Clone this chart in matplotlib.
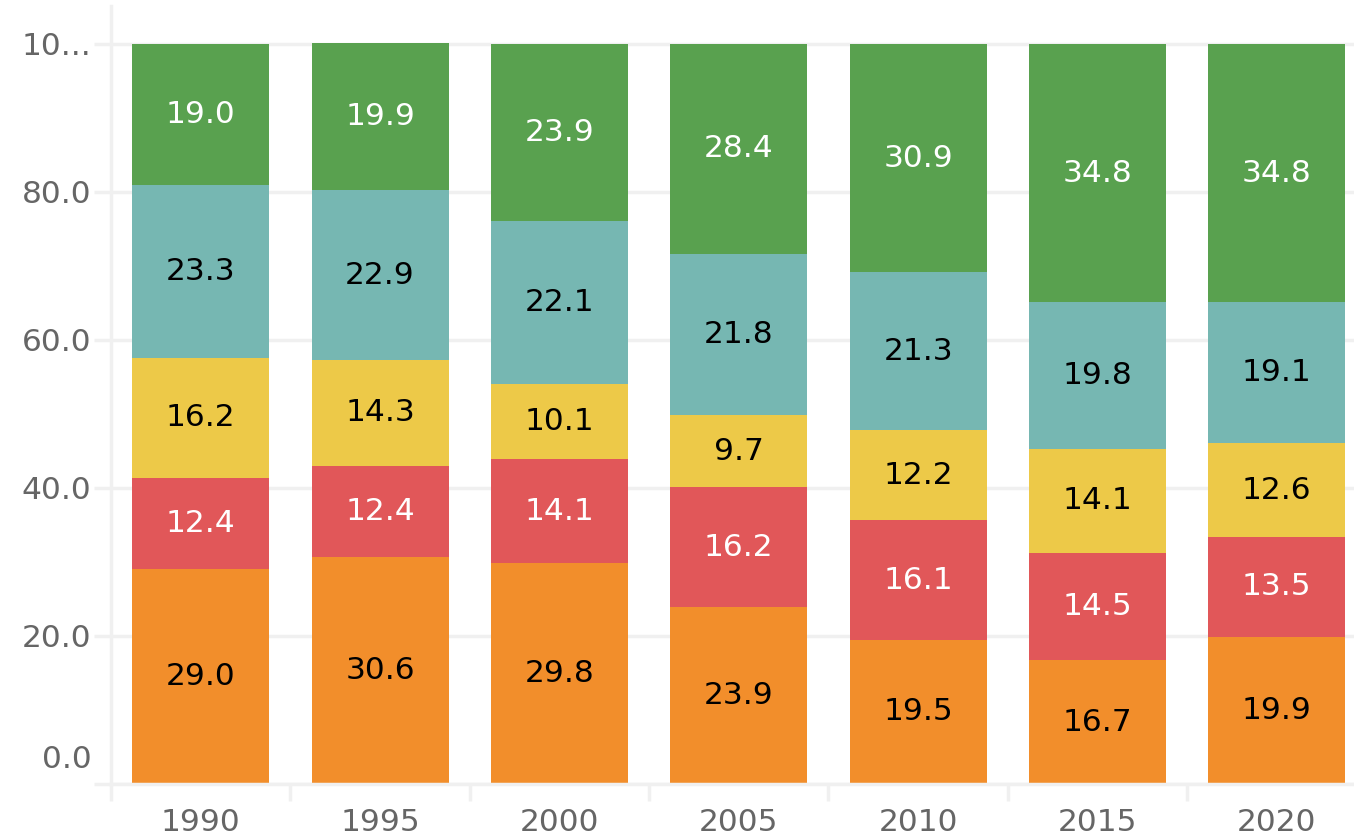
import numpy as np
import matplotlib.pyplot as plt
from matplotlib.transforms import ScaledTranslation

years = ["1990", "1995", "2000", "2005", "2010", "2015", "2020"]

# stacked segments, bottom to top
orange = [29.0, 30.6, 29.8, 23.9, 19.5, 16.7, 19.9]
red = [12.4, 12.4, 14.1, 16.2, 16.1, 14.5, 13.5]
yellow = [16.2, 14.3, 10.1, 9.7, 12.2, 14.1, 12.6]
teal = [23.3, 22.9, 22.1, 21.8, 21.3, 19.8, 19.1]
green = [19.0, 19.9, 23.9, 28.4, 30.9, 34.8, 34.8]

y_ticks = [0, 20, 40, 60, 80, 100]
y_tick_labels = ["0.0", "20.0", "40.0", "60.0", "80.0", "10..."]

series = [
    (orange, "#F28E2B", "black"),
    (red, "#E15759", "white"),
    (yellow, "#EDC948", "black"),
    (teal, "#76B7B2", "black"),
    (green, "#59A14F", "white"),
]

grid_col = "#f0f0f0"
fs = 22.5

fig = plt.figure(figsize=(13.54, 8.38), dpi=100)
ax = fig.add_axes([111 / 1354, 54 / 838, 1 - 111 / 1354, 778 / 838])

x = np.arange(len(years))
bottom = np.zeros(len(years))
for vals, col, tcol in series:
    vals = np.array(vals)
    ax.bar(x, vals, width=0.764, bottom=bottom, color=col, zorder=2)
    for xi, b, v in zip(x, bottom, vals):
        ax.text(xi, b + v / 2, f"{v:.1f}", ha="center", va="center",
                color=tcol, fontsize=fs, zorder=3)
    bottom += vals

for s in ["top", "right"]:
    ax.spines[s].set_visible(False)
for s in ["left", "bottom"]:
    ax.spines[s].set_color(grid_col)
    ax.spines[s].set_linewidth(2.5)

ax.set_yticks(y_ticks)
ax.set_yticklabels(y_tick_labels)
ax.yaxis.grid(True, color=grid_col, linewidth=2.5, zorder=0)
ax.tick_params(axis="y", length=12, width=2.5, color=grid_col, pad=2,
               labelsize=fs, labelcolor="#666666")
# first label sits above the baseline
lab0 = ax.get_yticklabels()[0]
lab0.set_transform(lab0.get_transform() + ScaledTranslation(0, 28 / 100, fig.dpi_scale_trans))

ax.set_xticks(x)
ax.set_xticklabels(years)
ax.set_xticks(np.arange(-0.5, 7, 1), minor=True)
ax.tick_params(axis="x", which="major", length=0, pad=17,
               labelsize=fs, labelcolor="#666666")
ax.tick_params(axis="x", which="minor", length=12, width=2.5, color=grid_col)
ax.set_axisbelow(True)

# limits after ticks, otherwise set_xticks widens them
ax.set_xlim(-0.5, 6.43)
ax.set_ylim(0, 105.1)

fig.savefig("out.png", dpi=100)
